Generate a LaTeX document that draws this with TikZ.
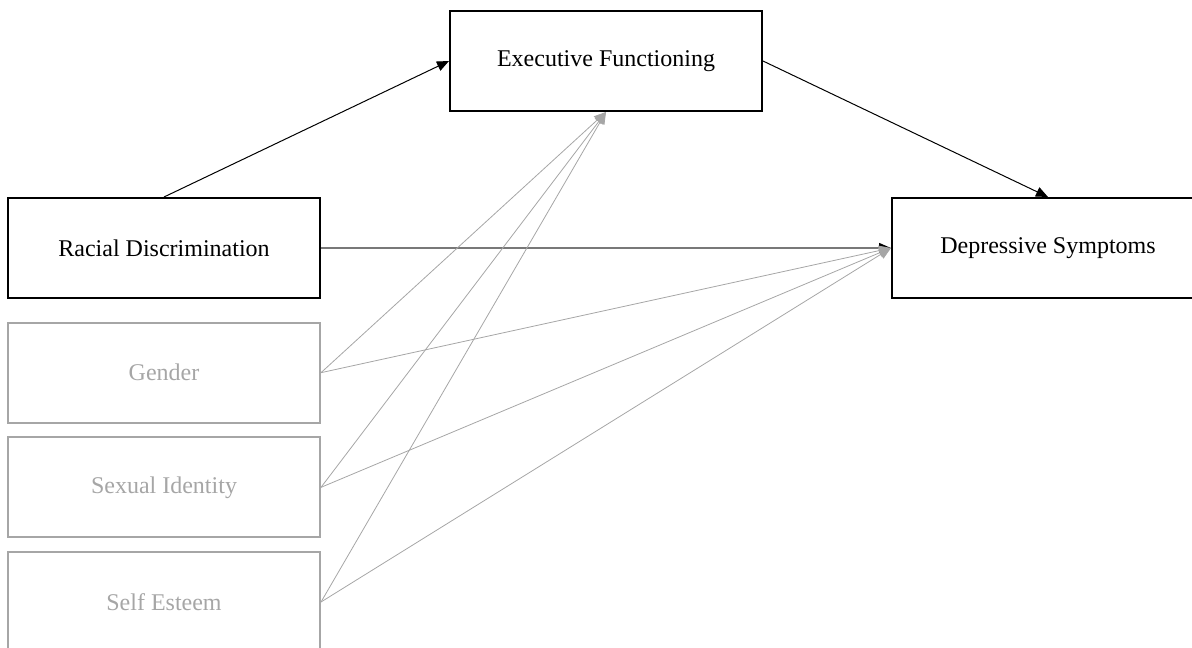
\documentclass[tikz,border=0pt]{standalone}
\usepackage{fontspec}
\setmainfont{Liberation Serif}
\usetikzlibrary{positioning, arrows.meta}
\definecolor{covgray}{RGB}{166, 166, 166}
\definecolor{pathgray}{RGB}{120, 120, 120}

\begin{document}
\begin{tikzpicture}[x=0.75pt, y=-0.75pt,
                vbox/.style={draw=black, line width=1.5pt,
                    minimum width=234pt, minimum height=75pt,
                    inner sep=0pt, align=center,
                    font=\fontsize{18}{22}\selectfont},
                cbox/.style={vbox, draw=covgray, text=covgray},
                arr/.style={line width=0.75pt,
                    -{Triangle[length=9pt, width=7.5pt]}},
                carr/.style={draw=covgray, line width=0.6pt,
                    -{Triangle[length=9pt, width=7.5pt]}}
            ]
                \clip (0, 0) rectangle (1192, 647);

                % main variables
                \node[vbox] (racial) at (164, 248)
                    {Racial Discrimination};
                \node[vbox] (exec) at (606, 61)
                    {Executive Functioning};
                \node[vbox] (dep) at (1048, 248)
                    {Depressive Symptoms};

                % covariates
                \node[cbox, below=17pt of racial] (gender)
                    {Gender};
                \node[cbox, below=9.5pt of gender] (sexid)
                    {Sexual Identity};
                \node[cbox, below=9.5pt of sexid] (selfest)
                    {Self Esteem};

                % paths
                \draw[arr] (racial.north) -- (exec.west);
                \draw[arr] (exec.east) -- (dep.north);
                \draw[arr, draw=pathgray, line width=1.1pt,
                      -{Triangle[length=9pt, width=7.5pt, color=black]}]
                    (racial.east) -- (dep.west);

                \foreach \cv in {gender, sexid, selfest} {
                    \draw[carr] (\cv.east) -- (exec.south);
                    \draw[carr] (\cv.east) -- (dep.west);
                }

            \end{tikzpicture}
\end{document}
